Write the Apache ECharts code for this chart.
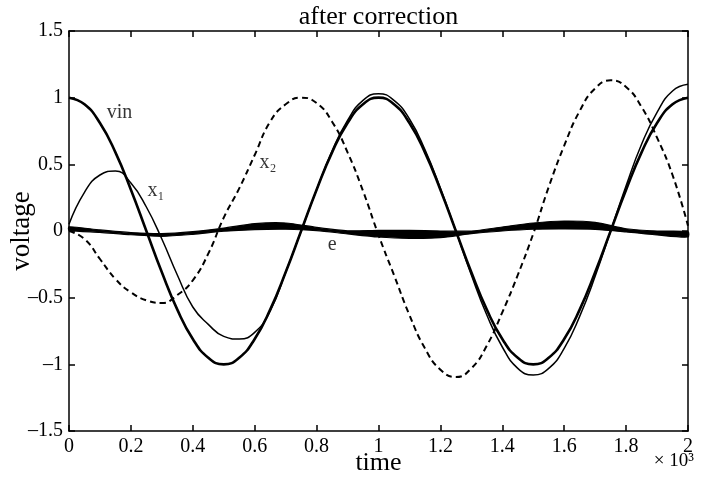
<!DOCTYPE html>
<html lang="en">
<head>
  <meta charset="UTF-8">
  <title>after correction</title>
  <style>
    * { margin: 0; padding: 0; }
    body { background: #ffffff; }
    #chart { width: 702px; height: 485px; }
  </style>
</head>
<body>
  <div id="chart"></div>

  <script src="https://cdn.jsdelivr.net/npm/echarts@6/dist/echarts.min.js"></script>
  <script type="text/javascript">
  // time samples (every 50)
  var time = [0, 50, 100, 150, 200, 250, 300, 350, 400, 450,
              500, 550, 600, 650, 700, 750, 800, 850, 900, 950,
              1000, 1050, 1100, 1150, 1200, 1250, 1300, 1350, 1400, 1450,
              1500, 1550, 1600, 1650, 1700, 1750, 1800, 1850, 1900, 1950, 2000];

  var vin = [1.00, 0.95, 0.81, 0.59, 0.31, 0.00, -0.31, -0.59, -0.81, -0.95,
             -1.00, -0.95, -0.81, -0.59, -0.31, 0.00, 0.31, 0.59, 0.81, 0.95,
             1.00, 0.95, 0.81, 0.59, 0.31, 0.00, -0.31, -0.59, -0.81, -0.95,
             -1.00, -0.95, -0.81, -0.59, -0.31, 0.00, 0.31, 0.59, 0.81, 0.95, 1.00];

  var x1 = [0.05, 0.29, 0.42, 0.45, 0.36, 0.18, -0.06, -0.33, -0.57, -0.70,
            -0.79, -0.81, -0.76, -0.60, -0.31, 0.00, 0.31, 0.60, 0.83, 0.98,
            1.03, 0.98, 0.84, 0.61, 0.32, 0.00, -0.33, -0.63, -0.87, -1.03,
            -1.08, -1.03, -0.88, -0.64, -0.34, 0.00, 0.34, 0.65, 0.89, 1.05, 1.10];

  var x2 = [0.00, -0.06, -0.21, -0.36, -0.46, -0.52, -0.54, -0.48, -0.37, -0.17,
            0.10, 0.32, 0.57, 0.82, 0.95, 1.00, 0.96, 0.82, 0.59, 0.30,
            -0.03, -0.33, -0.63, -0.88, -1.04, -1.095, -1.03, -0.86, -0.61, -0.33,
            -0.02, 0.33, 0.64, 0.90, 1.07, 1.13, 1.08, 0.93, 0.70, 0.42, 0.04];

  // error e (every 100): upper and lower edge of the fuzzy trace
  var eTime = [0, 100, 200, 300, 400, 500, 600, 700, 800, 900, 1000,
               1100, 1200, 1300, 1400, 1500, 1600, 1700, 1800, 1900, 2000];
  var eUpper = [0.032, 0.008, -0.012, -0.020, -0.005, 0.022, 0.055, 0.060, 0.027, 0.002, 0.005,
                0.005, 0.000, 0.000, 0.030, 0.060, 0.075, 0.065, 0.017, 0.000, -0.005];
  var eLower = [0.005, -0.010, -0.028, -0.040, -0.025, -0.002, 0.010, 0.013, 0.003, -0.022, -0.045,
                -0.055, -0.050, -0.020, 0.000, 0.013, 0.015, 0.012, -0.007, -0.030, -0.045];

  // curve labels, in data coordinates
  var labelText = ['vin', 'x\u2081', 'x\u2082', 'e'];
  var labelX = [163, 281, 643, 850];
  var labelY = [0.89, 0.30, 0.51, -0.10];

  var FONT = '"Liberation Serif", "DejaVu Serif", serif';

  function pairs (xs, ys) {
    return xs.map(function (x, i) { return [x, ys[i]]; });
  }

  function dash (v) {
    return String(v).replace('-', '\u2013');
  }

  // e band: one filled outline, upper edge forward then lower edge back
  function renderBand (params, api) {
    if (params.dataIndex !== 0) return null;
    var pts = [];
    for (var i = 0; i < eTime.length; i++) pts.push(api.coord([eTime[i], eUpper[i]]));
    for (var j = eTime.length - 1; j >= 0; j--) pts.push(api.coord([eTime[j], eLower[j]]));
    return {
      type: 'polygon',
      shape: { points: pts, smooth: 0.25 },
      style: { fill: '#000', stroke: '#000', lineWidth: 1.2 }
    };
  }

  function main () {
    var chart = echarts.init(document.getElementById('chart'));

    var tickStyle = { show: true, inside: true, length: 6, lineStyle: { color: '#000', width: 1.5 } };
    var lineStyle = { show: true, onZero: false, lineStyle: { color: '#000', width: 1.5 } };

    var option = {
      backgroundColor: '#ffffff',
      animation: false,
      textStyle: { fontFamily: FONT, color: '#000' },
      grid: { left: 69, right: 14, top: 31, bottom: 54, containLabel: false, outerBoundsMode: 'none' },
      xAxis: [{
        type: 'value', min: 0, max: 2000, interval: 200,
        axisLine: lineStyle, axisTick: tickStyle, splitLine: { show: false },
        axisLabel: { fontFamily: FONT, fontSize: 20, color: '#000', margin: 6,
          formatter: function (v) { return dash(+(v / 1000).toFixed(1)); } },
        name: 'time', nameLocation: 'middle', nameGap: 19, nameMoveOverlap: false,
        nameTextStyle: { fontFamily: FONT, fontSize: 26, color: '#000' }
      }, {
        type: 'value', min: 0, max: 2000, interval: 200, position: 'top',
        axisLine: lineStyle, axisTick: tickStyle, splitLine: { show: false },
        axisLabel: { show: false },
        name: 'after correction', nameLocation: 'middle', nameGap: 1,
        nameTextStyle: { fontFamily: FONT, fontSize: 26, color: '#000' }
      }],
      yAxis: [{
        type: 'value', min: -1.5, max: 1.5, interval: 0.5,
        axisLine: lineStyle, axisTick: tickStyle, splitLine: { show: false },
        axisLabel: { fontFamily: FONT, fontSize: 20, color: '#000', margin: 6,
          formatter: function (v) { return dash(v); } },
        name: 'voltage', nameLocation: 'middle', nameGap: 34, nameMoveOverlap: false,
        nameTextStyle: { fontFamily: FONT, fontSize: 27, color: '#000' }
      }, {
        type: 'value', min: -1.5, max: 1.5, interval: 0.5, position: 'right',
        axisLine: lineStyle, axisTick: tickStyle, splitLine: { show: false },
        axisLabel: { show: false }
      }],
      graphic: [{
        type: 'text', right: 8, top: 452,
        style: { text: '\u00d7 10\u00b3', font: '19px ' + FONT, fill: '#000' }
      }],
      series: [{
        name: 'e', type: 'custom', renderItem: renderBand,
        data: pairs(eTime, eUpper), encode: { x: 0, y: 1 }, silent: true
      }, {
        name: 'x2', type: 'line', data: pairs(time, x2), smooth: true, showSymbol: false,
        lineStyle: { color: '#000', width: 2, type: [6, 4] }
      }, {
        name: 'x1', type: 'line', data: pairs(time, x1), smooth: true, showSymbol: false,
        lineStyle: { color: '#000', width: 1.5 }
      }, {
        name: 'vin', type: 'line', data: pairs(time, vin), smooth: true, showSymbol: false,
        lineStyle: { color: '#000', width: 2.6 }
      }, {
        name: 'labels', type: 'scatter', symbolSize: 0, silent: true,
        data: labelText.map(function (t, i) { return { value: [labelX[i], labelY[i]], name: t }; }),
        label: { show: true, position: 'inside', formatter: '{b}',
          fontFamily: FONT, fontSize: 20, color: '#000' }
      }]
    };
    chart.setOption(option);
  }

  window.addEventListener('load', main);
  </script>
</body>
</html>
